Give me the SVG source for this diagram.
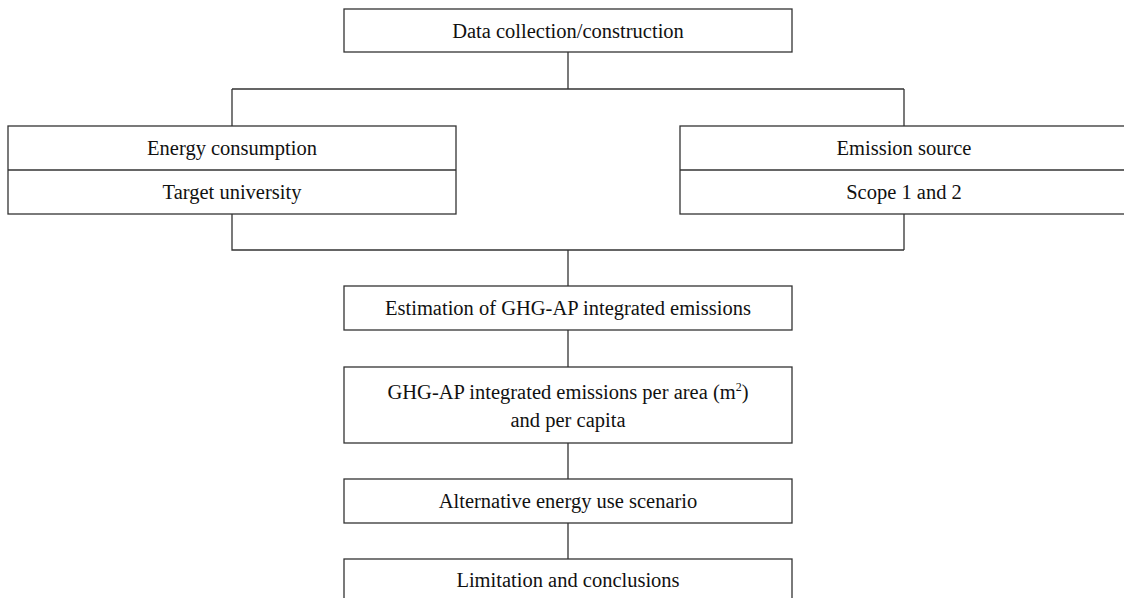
<svg xmlns="http://www.w3.org/2000/svg" width="1124" height="598" viewBox="0 0 1124 598">
<style>
.box{fill:#fff;stroke:#333;stroke-width:1.3}
.ln{fill:none;stroke:#333;stroke-width:1.3}
text{font-family:"Liberation Serif","Times New Roman",serif;font-size:20.5px;fill:#111;text-anchor:middle}
.sup{font-size:12px}
</style>
<rect width="1124" height="598" fill="#fff"/>
<g id="connectors">
<path class="ln" d="M568 52V89M232 89H904M232 89V126M904 89V126"/>
<path class="ln" d="M232 214V250H904M904 214V250M568 250V286"/>
<path class="ln" d="M568 330V367M568 443V479M568 523V559"/>
</g>
<g id="n-data">
<rect class="box" x="344" y="9" width="448" height="43"/>
<text x="568" y="38">Data collection/construction</text>
</g>
<g id="n-energy">
<rect class="box" x="8" y="126" width="448" height="88"/>
<line class="ln" x1="8" y1="170" x2="456" y2="170"/>
<text x="232" y="155">Energy consumption</text>
<text x="232" y="199">Target university</text>
</g>
<g id="n-emission">
<rect class="box" x="680" y="126" width="448" height="88"/>
<line class="ln" x1="680" y1="170" x2="1128" y2="170"/>
<text x="904" y="155">Emission source</text>
<text x="904" y="199">Scope 1 and 2</text>
</g>
<g id="n-estimation">
<rect class="box" x="344" y="286" width="448" height="44"/>
<text x="568" y="315">Estimation of GHG-AP integrated emissions</text>
</g>
<g id="n-perarea">
<rect class="box" x="344" y="367" width="448" height="76"/>
<text x="568" y="399">GHG-AP integrated emissions per area (m<tspan class="sup" dy="-8">2</tspan><tspan dy="8">)</tspan></text>
<text x="568" y="427">and per capita</text>
</g>
<g id="n-alternative">
<rect class="box" x="344" y="479" width="448" height="44"/>
<text x="568" y="508">Alternative energy use scenario</text>
</g>
<g id="n-limitation">
<rect class="box" x="344" y="559" width="448" height="60"/>
<text x="568" y="587">Limitation and conclusions</text>
</g>
</svg>
